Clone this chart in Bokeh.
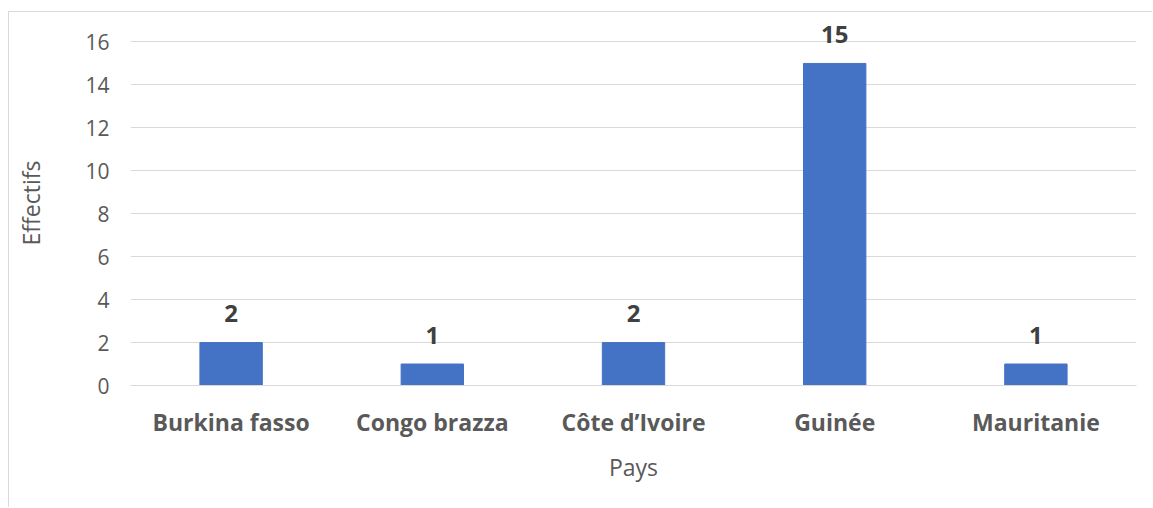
from bokeh.plotting import figure
from bokeh.models import ColumnDataSource, Range1d, FactorRange
from bokeh.core.properties import value
from bokeh.embed import file_html
from bokeh.resources import INLINE

pays = ["Burkina fasso", "Congo brazza", "Côte d’Ivoire", "Guinée", "Mauritanie"]
effectifs = [2, 1, 2, 15, 1]
y_ticks = [0, 2, 4, 6, 8, 10, 12, 14, 16]

src = ColumnDataSource(dict(pays=pays, effectifs=effectifs, lab=[str(v) for v in effectifs]))

p = figure(x_range=FactorRange(*pays, range_padding=0), y_range=Range1d(0, 17),
           width=1144, height=496, output_backend="svg", toolbar_location=None,
           min_border_left=121, min_border_right=17, min_border_top=8, min_border_bottom=123)
p.styles = {"border-top": "1px solid #d9d9d9", "border-left": "1px solid #d9d9d9",
            "margin-top": "11px", "margin-left": "8px"}
p.outline_line_color = None
p.background_fill_color = "white"
p.border_fill_color = "white"

p.vbar(x="pays", top="effectifs", width=0.31, source=src, color="#4472C4")
p.text(x="pays", y="effectifs", text="lab", source=src, text_align="center",
       text_baseline="middle", y_offset=-29, text_font=value("Open Sans"),
       text_font_style="bold", text_font_size="24px", text_color="#404040")

p.yaxis.ticker = y_ticks
p.yaxis.axis_line_color = None
p.yaxis.major_tick_line_color = None
p.yaxis.minor_tick_line_color = None
p.yaxis.major_label_text_font = "Open Sans"
p.yaxis.major_label_text_font_size = "21px"
p.yaxis.major_label_text_color = "#595959"
p.yaxis.major_label_standoff = 15
p.yaxis.axis_label = "Effectifs"
p.yaxis.axis_label_text_font = "Open Sans"
p.yaxis.axis_label_text_font_style = "normal"
p.yaxis.axis_label_text_font_size = "23px"
p.yaxis.axis_label_text_color = "#595959"
p.yaxis.axis_label_standoff = 35

p.xaxis.axis_line_color = "#d9d9d9"
p.xaxis.major_tick_line_color = None
p.xaxis.minor_tick_line_color = None
p.xaxis.major_label_text_font = "Open Sans"
p.xaxis.major_label_text_font_style = "bold"
p.xaxis.major_label_text_font_size = "23px"
p.xaxis.major_label_text_color = "#595959"
p.xaxis.major_label_standoff = 14
p.xaxis.axis_label = "Pays"
p.xaxis.axis_label_text_font = "Open Sans"
p.xaxis.axis_label_text_font_style = "normal"
p.xaxis.axis_label_text_font_size = "23px"
p.xaxis.axis_label_text_color = "#595959"
p.xaxis.axis_label_standoff = 10

p.xgrid.grid_line_color = None
p.ygrid.grid_line_color = "#d9d9d9"
p.ygrid.grid_line_width = 1

open("out.html", "w").write(file_html(p, INLINE))
